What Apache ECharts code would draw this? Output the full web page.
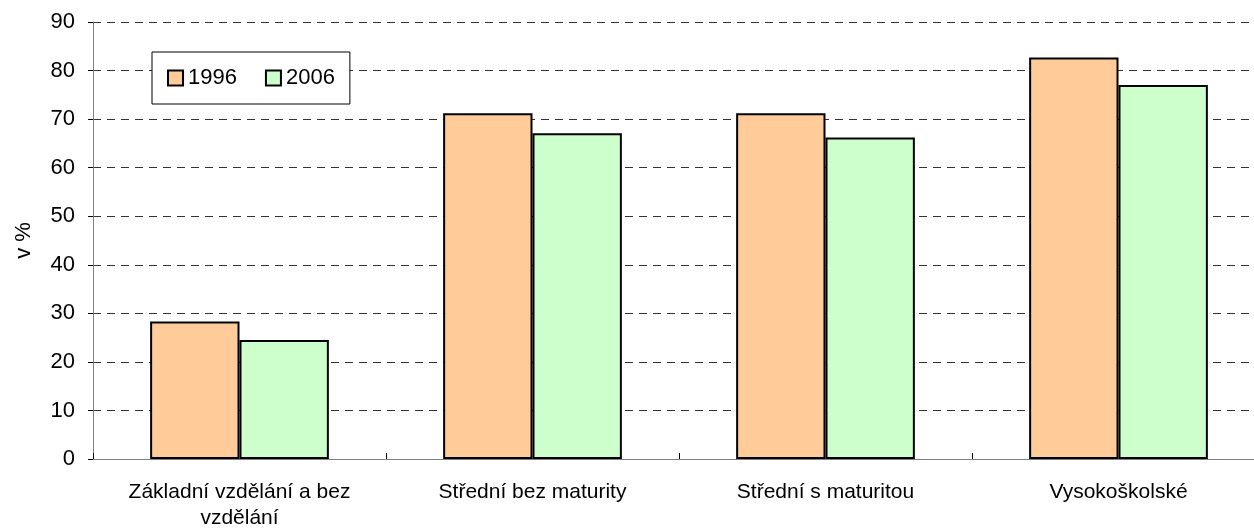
<!DOCTYPE html>
<html>
<head>
<meta charset="utf-8">
<script src="https://cdn.jsdelivr.net/npm/echarts@6/dist/echarts.min.js"></script>
<style>
  html, body { margin: 0; padding: 0; background: #fff; overflow: hidden; }
  /* plot area runs a little past the right edge in the original */
  #chart { width: 1265px; height: 531px; }
</style>
</head>
<body>
<div id="chart"></div>
<script>
  // data
  var categories = ["Základní vzdělání a bez\nvzdělání", "Střední bez maturity", "Střední s maturitou", "Vysokoškolské"];
  var values1996 = [28.3, 71.2, 71.2, 82.7];
  var values2006 = [24.5, 67.1, 66.2, 77.0];
  var seriesNames = ["1996", "2006"];

  var font = "Liberation Sans, Arial, sans-serif";
  var chart = echarts.init(document.getElementById("chart"));

  chart.setOption({
    animation: false,
    textStyle: { fontFamily: font },
    grid: {
      left: 93,
      right: 0,
      top: 22,
      bottom: 68
    },
    legend: {
      data: seriesNames,
      left: 152,
      top: 52,
      orient: "horizontal",
      padding: [15, 15, 15, 15],
      itemWidth: 15,
      itemHeight: 15,
      itemGap: 28,
      icon: "rect",
      backgroundColor: "#fff",
      borderColor: "#000",
      borderWidth: 1,
      textStyle: { fontSize: 22, color: "#000", fontFamily: font }
    },
    xAxis: {
      type: "category",
      data: categories,
      axisLine: { lineStyle: { color: "#808080", width: 1 } },
      axisTick: { show: true, inside: true, length: 6, lineStyle: { color: "#000" } },
      axisLabel: {
        color: "#000",
        fontSize: 21,
        fontFamily: font,
        margin: 20,
        lineHeight: 26,
        interval: 0
      }
    },
    yAxis: {
      type: "value",
      min: 0,
      max: 90,
      interval: 10,
      name: "v %",
      nameLocation: "middle",
      nameGap: 58,
      nameRotate: 90,
      nameTextStyle: { color: "#000", fontSize: 22, fontFamily: font },
      axisLine: { show: true, lineStyle: { color: "#808080", width: 1 } },
      axisTick: { show: true, length: 5, lineStyle: { color: "#000" } },
      axisLabel: { color: "#000", fontSize: 22, fontFamily: font, margin: 18 },
      splitLine: {
        show: true,
        lineStyle: { color: "#333", type: [8, 6], width: 1 }
      }
    },
    series: [
      {
        name: seriesNames[0],
        type: "bar",
        data: values1996,
        barGap: "0%",
        barCategoryGap: "39%",
        itemStyle: { color: "#FFCC99", borderColor: "#000", borderWidth: 2 }
      },
      {
        name: seriesNames[1],
        type: "bar",
        data: values2006,
        itemStyle: { color: "#CCFFCC", borderColor: "#000", borderWidth: 2 }
      }
    ]
  });
</script>
</body>
</html>
